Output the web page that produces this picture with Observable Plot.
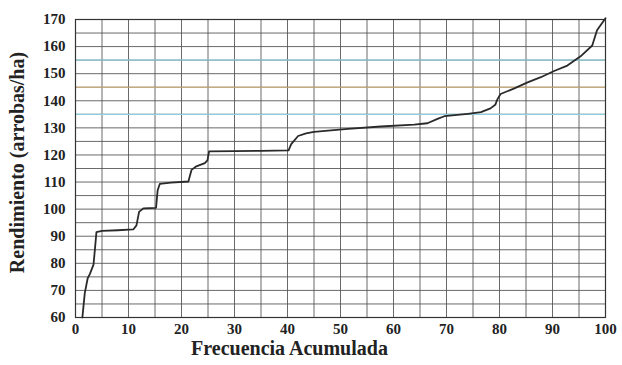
<!DOCTYPE html>
<html>
<head>
<meta charset="utf-8">
<script src="https://cdn.jsdelivr.net/npm/d3@7"></script>
<script src="https://cdn.jsdelivr.net/npm/@observablehq/plot@0.6"></script>
<style>
  html, body { margin: 0; padding: 0; background: #ffffff; }
  #chart svg { display: block; }
</style>
</head>
<body>
<div id="chart"></div>
<script>
// Frecuencia acumulada (%) vs rendimiento (arrobas/ha)
const frecuencia = [1.3, 1.5, 1.75, 2.3, 2.7, 3.4, 3.7, 3.95, 5, 8, 10.9, 11.5, 12.0, 12.8, 15.2, 15.5, 15.9, 18, 21.3, 21.9, 22.8, 24.4, 24.9, 25.2, 30, 35, 40.2, 40.7, 42, 43.5, 45, 51.4, 57.6, 63.9, 66.4, 68.3, 69.6, 74, 76.5, 78.3, 79.2, 79.6, 80.2, 82.7, 85.3, 87.8, 90.3, 92.8, 95.3, 97.5, 98.4, 100];
const rendimiento = [60, 64, 69, 74.5, 76, 79.5, 86, 91.5, 92, 92.2, 92.5, 94, 99, 100.3, 100.5, 107, 109.3, 109.8, 110.2, 114.5, 115.8, 117, 118, 121.3, 121.4, 121.5, 121.7, 124, 127, 128, 128.5, 129.6, 130.5, 131.2, 131.7, 133.3, 134.3, 135.2, 135.8, 137.2, 138.5, 140.5, 142.5, 144.5, 146.8, 148.7, 151, 153, 156.4, 160.4, 166, 170.5];
const xTicks = [0, 10, 20, 30, 40, 50, 60, 70, 80, 90, 100];
const yTicks = [60, 70, 80, 90, 100, 110, 120, 130, 140, 150, 160, 170];
const xGrid = d3.range(0, 101, 5);
const yGrid = d3.range(60, 171, 5);
const tintCyan = [155, 135];
const tintOrange = [145];
const xTitle = "Frecuencia Acumulada";
const yTitle = "Rendimiento (arrobas/ha)";

const data = frecuencia.map((f, i) => ({f, r: rendimiento[i]}));

const chart = Plot.plot({
  width: 622,
  height: 365,
  marginLeft: 75,
  marginRight: 17,
  marginTop: 19,
  marginBottom: 48,
  style: {fontFamily: "'Liberation Serif', 'DejaVu Serif', serif", fontSize: "15px", fontWeight: "bold", color: "#222", background: "#ffffff"},
  x: {domain: [0, 100]},
  y: {domain: [60, 170]},
  marks: [
    Plot.gridX(xGrid, {stroke: "#505050", strokeOpacity: 0.85, strokeWidth: 1}),
    Plot.gridY(yGrid, {stroke: "#505050", strokeOpacity: 0.85, strokeWidth: 1}),
    Plot.ruleY(tintCyan, {stroke: "#8ccfdc", strokeWidth: 1.2}),
    Plot.ruleY(tintOrange, {stroke: "#d9b27a", strokeWidth: 1.2}),
    Plot.frame({stroke: "#333", strokeWidth: 1.2}),
    Plot.axisX(xTicks, {tickSize: 0, tickPadding: 6, label: null, fontSize: 15, fontWeight: "bold"}),
    Plot.axisY(yTicks, {tickSize: 0, tickPadding: 10, label: null, fontSize: 15, fontWeight: "bold"}),
    Plot.line(data, {x: "f", y: "r", stroke: "#2a2a2a", strokeWidth: 1.8}),
    Plot.text([xTitle], {frameAnchor: "bottom", dx: -51, dy: 37, fontSize: 20, fontWeight: "bold", fill: "#222"}),
    Plot.text([yTitle], {frameAnchor: "left", textAnchor: "middle", rotate: -90, dx: -58, dy: -6, fontSize: 20, fontWeight: "bold", fill: "#222"})
  ]
});
document.getElementById("chart").appendChild(chart);
</script>
</body>
</html>
